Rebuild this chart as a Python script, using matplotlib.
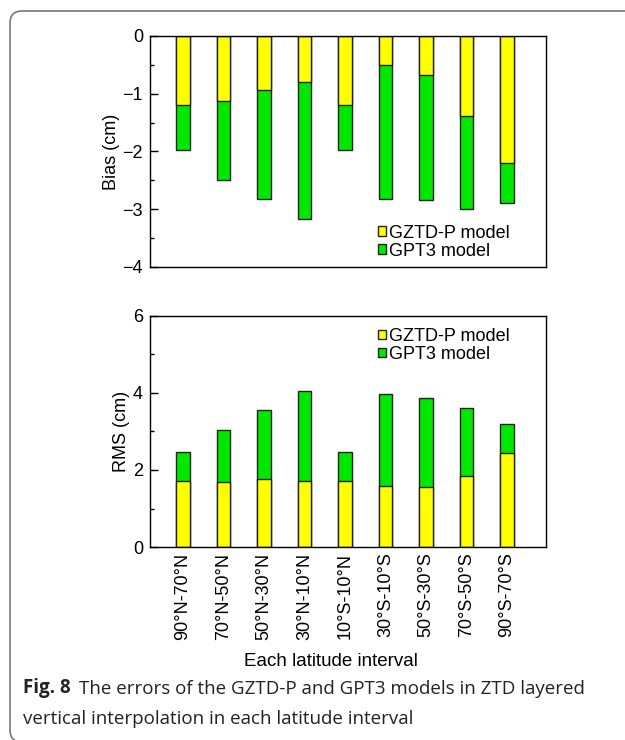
import matplotlib
matplotlib.use('Agg')
import matplotlib.pyplot as plt
import matplotlib.patches as mpatches
import matplotlib.transforms as mtransforms
import numpy as np
from matplotlib.ticker import MultipleLocator

intervals = ['90°N-70°N', '70°N-50°N', '50°N-30°N', '30°N-10°N', '10°S-10°N',
             '30°S-10°S', '50°S-30°S', '70°S-50°S', '90°S-70°S']

bias_gztd = [-1.20, -1.12, -0.93, -0.80, -1.20, -0.50, -0.68, -1.38, -2.20]
bias_gpt3 = [-1.98, -2.50, -2.82, -3.17, -1.98, -2.82, -2.84, -3.00, -2.90]

rms_gztd = [1.72, 1.68, 1.76, 1.72, 1.72, 1.58, 1.57, 1.84, 2.45]
rms_gpt3 = [2.48, 3.04, 3.56, 4.05, 2.48, 3.98, 3.88, 3.62, 3.19]

yellow = '#ffff00'
green = '#00e800'
edge = '#222222'

plt.rcParams['font.family'] = ['Liberation Sans', 'DejaVu Sans']
plt.rcParams['font.size'] = 13

fig = plt.figure(figsize=(6.25, 7.4), dpi=100)
ax1 = fig.add_axes([0.24, 0.6392, 0.6336, 0.3122])
ax2 = fig.add_axes([0.24, 0.2608, 0.6336, 0.3122])

x = np.arange(1, len(intervals) + 1)
w = 0.33


def style_axis(ax):
    ax.set_xlim(0.19, 9.96)
    ax.tick_params(axis='y', which='major', direction='in', length=6, width=1, pad=5, labelsize=13)
    ax.tick_params(axis='y', which='minor', direction='in', length=3, width=1)
    ax.tick_params(axis='x', length=0)
    for s in ax.spines.values():
        s.set_linewidth(1)


leg_kw = dict(frameon=False, fontsize=13, handlelength=0.45, handleheight=0.45,
              handletextpad=0.15, labelspacing=0.05, borderpad=0.1)

# bias panel
g1 = ax1.bar(x, bias_gpt3, width=w, color=green, edgecolor=edge, linewidth=1)
y1 = ax1.bar(x, bias_gztd, width=w, color=yellow, edgecolor=edge, linewidth=1)
ax1.set_ylim(-4, 0)
ax1.yaxis.set_minor_locator(MultipleLocator(0.5))
ax1.set_yticks([-4, -3, -2, -1, 0])
ax1.set_yticklabels(['\u22124', '\u22123', '\u22122', '\u22121', '0'])
ax1.set_xticks([])
ax1.set_ylabel('Bias (cm)', fontsize=13, labelpad=2)
style_axis(ax1)
ax1.legend([y1, g1], ['GZTD-P model', 'GPT3 model'], loc='lower right',
           bbox_to_anchor=(0.935, -0.015), **leg_kw)

# RMS panel
g2 = ax2.bar(x, rms_gpt3, width=w, color=green, edgecolor=edge, linewidth=1)
y2 = ax2.bar(x, rms_gztd, width=w, color=yellow, edgecolor=edge, linewidth=1)
ax2.set_ylim(0, 6)
ax2.yaxis.set_major_locator(MultipleLocator(2))
ax2.yaxis.set_minor_locator(MultipleLocator(1))
ax2.set_xticks(x)
ax2.set_xticklabels(intervals, rotation=90, fontsize=13)
ax2.set_ylabel('RMS (cm)', fontsize=13, labelpad=2)
ax2.set_xlabel('Each latitude interval', fontsize=13.5)
style_axis(ax2)
ax2.tick_params(axis='x', pad=4)
ax2.xaxis.set_label_coords(0.457, -0.46)
ax2.legend([y2, g2], ['GZTD-P model', 'GPT3 model'], loc='upper right',
           bbox_to_anchor=(0.935, 0.995), **leg_kw)

# caption
t1 = fig.text(23 / 625, 1 - 693 / 740, 'Fig. 8', fontsize=13.5, fontweight='bold',
              family=['Open Sans', 'DejaVu Sans'], color='#222222')
fig.text(23 / 625, 1 - 724 / 740, 'vertical interpolation in each latitude interval',
         fontsize=13.5, family=['Open Sans', 'DejaVu Sans'], color='#222222')
plt.annotate('The errors of the GZTD-P and GPT3 models in ZTD layered',
             xy=(1, 0), xycoords=t1, xytext=(6, 0), textcoords='offset points',
             fontsize=13.5, family=['Open Sans', 'DejaVu Sans'], color='#222222',
             va='bottom', ha='left')

# rounded frame around the figure
frame = mpatches.FancyBboxPatch((22, 10), 700, 707,
                                boxstyle='round,pad=12,rounding_size=12',
                                transform=mtransforms.IdentityTransform(),
                                facecolor='none', edgecolor='#777777', linewidth=1.2)
fig.patches.append(frame)

fig.savefig('out.png', dpi=100)
